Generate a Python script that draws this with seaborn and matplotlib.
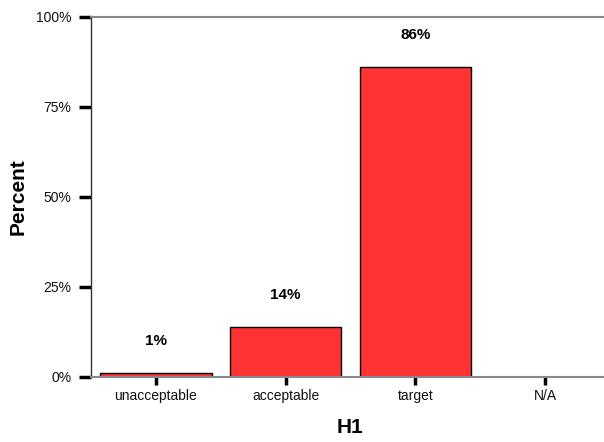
import numpy as np
import pandas as pd
import matplotlib
matplotlib.use("Agg")
import matplotlib.pyplot as plt
import seaborn as sns
from matplotlib.ticker import FuncFormatter

# Response categories and percentage of answers in each
categories = ["unacceptable", "acceptable", "target", "N/A"]
percent = [1, 14, 86, np.nan]
bar_labels = ["1%", "14%", "86%", ""]
y_ticks = [0, 25, 50, 75, 100]

sns.set_theme(style="white")
plt.rcParams["font.family"] = ["Liberation Sans", "DejaVu Sans"]

df = pd.DataFrame({"H1": categories, "Percent": percent})

fig = plt.figure(figsize=(6.04, 4.42), dpi=100)
ax = fig.add_axes([91 / 604, 65 / 442, 519 / 604, 360 / 442])

sns.barplot(data=df, x="H1", y="Percent", order=categories, color="#FF3333",
            saturation=1, width=0.86, edgecolor="black", linewidth=1.0,
            errorbar=None, ax=ax)

# percentage labels above each bar
for i, (v, lab) in enumerate(zip(percent, bar_labels)):
    if lab and not np.isnan(v):
        ax.annotate(lab, xy=(i, v), xytext=(0, 23), textcoords="offset points",
                    ha="center", va="center", fontsize=11, fontweight="bold",
                    color="black")

ax.set_xlim(-0.5, len(categories) - 0.5)
ax.set_ylim(0, 100)
ax.set_yticks(y_ticks)
ax.yaxis.set_major_formatter(FuncFormatter(lambda v, p: f"{int(v)}%"))

ax.tick_params(axis="y", which="major", left=True, length=9, width=2.5,
               color="black", pad=5, labelsize=10, labelcolor="#111111")
ax.tick_params(axis="x", which="major", bottom=True, length=6, width=2.5,
               color="black", pad=2.5, labelsize=10, labelcolor="#111111")

ax.set_ylabel("Percent", fontsize=15, fontweight="bold", labelpad=6, color="black")
ax.set_xlabel("H1", fontsize=15, fontweight="bold", labelpad=11, color="black")

ax.spines["left"].set_color("#333333")
ax.spines["left"].set_linewidth(1.0)
ax.spines["bottom"].set_color("#888888")
ax.spines["bottom"].set_linewidth(1.5)
ax.spines["top"].set_visible(True)
ax.spines["top"].set_color("#888888")
ax.spines["top"].set_linewidth(1.5)
ax.spines["right"].set_visible(False)

fig.savefig("out.png", dpi=100)
